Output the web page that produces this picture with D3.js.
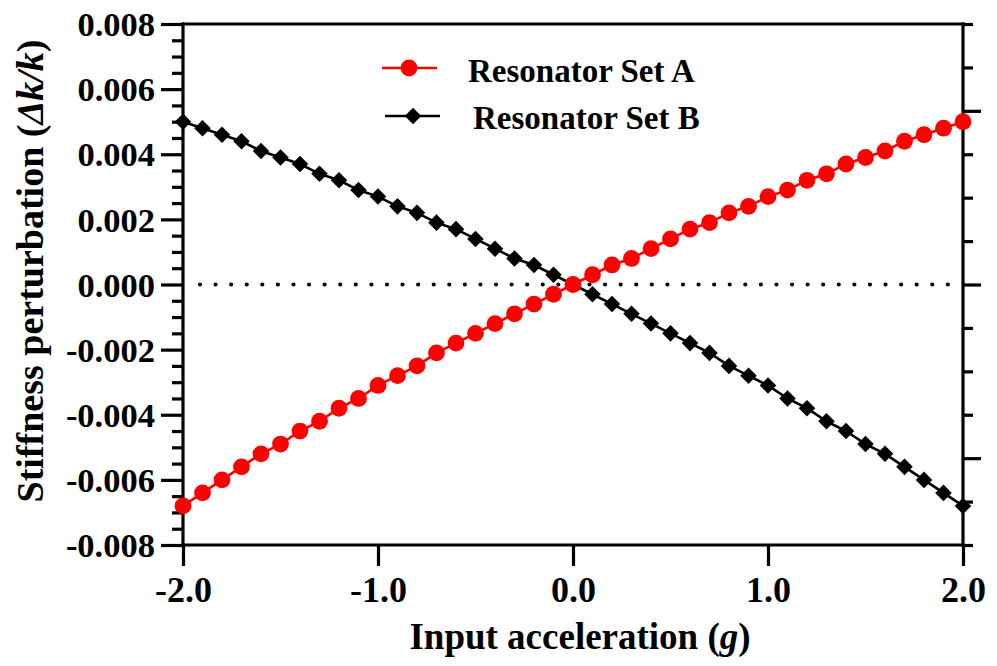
<!DOCTYPE html>
<html>
<head>
<meta charset="utf-8">
<script src="https://cdn.jsdelivr.net/npm/d3@7/dist/d3.min.js"></script>
<style>
  html, body { margin: 0; padding: 0; background: #fff; }
  svg { display: block; }
  text { font-family: "Liberation Serif", "Times New Roman", serif; font-weight: bold; fill: #000; }
</style>
</head>
<body>
<svg id="chart" width="997" height="666"></svg>
<script>
// Input acceleration (g)
const accel = [-2.0,-1.9,-1.8,-1.7,-1.6,-1.5,-1.4,-1.3,-1.2,-1.1,-1.0,-0.9,-0.8,-0.7,-0.6,-0.5,-0.4,-0.3,-0.2,-0.1,
               0.0,0.1,0.2,0.3,0.4,0.5,0.6,0.7,0.8,0.9,1.0,1.1,1.2,1.3,1.4,1.5,1.6,1.7,1.8,1.9,2.0];

// Stiffness perturbation Δk/k for each resonator set
const setA = [-0.0068,-0.0064,-0.0060,-0.0056,-0.0052,-0.0049,-0.0045,-0.0042,-0.0038,-0.0035,-0.0031,
              -0.0028,-0.0025,-0.0021,-0.0018,-0.0015,-0.0012,-0.0009,-0.0006,-0.0003,
              0.0000,0.0003,0.0006,0.0008,0.0011,0.0014,0.0017,0.0019,0.0022,0.0024,0.0027,
              0.0029,0.0032,0.0034,0.0037,0.0039,0.0041,0.0044,0.0046,0.0048,0.0050];
const setB = [0.0050,0.0048,0.0046,0.0044,0.0041,0.0039,0.0037,0.0034,0.0032,0.0029,0.0027,
              0.0024,0.0022,0.0019,0.0017,0.0014,0.0011,0.0008,0.0006,0.0003,
              0.0000,-0.0003,-0.0006,-0.0009,-0.0012,-0.0015,-0.0018,-0.0021,-0.0025,-0.0028,-0.0031,
              -0.0035,-0.0038,-0.0042,-0.0045,-0.0049,-0.0052,-0.0056,-0.0060,-0.0064,-0.0068];

const seriesNames = ["Resonator Set A", "Resonator Set B"];

// Axis ticks
const xTicks = [-2.0, -1.0, 0.0, 1.0, 2.0];
const yMajorTicks = [-0.008,-0.006,-0.004,-0.002,0.000,0.002,0.004,0.006,0.008];
const yMinorTicks = [-0.0075,-0.007,-0.0065,-0.0055,-0.005,-0.0045,-0.0035,-0.003,-0.0025,
                     -0.0015,-0.001,-0.0005,0.0005,0.001,0.0015,0.0025,0.003,0.0035,
                     0.0045,0.005,0.0055,0.0065,0.007,0.0075];
// Right-hand (secondary) axis, ticks only
const rightMajorTicks = [-4, 0, 4];
const rightMinorTicks = [-6,-5,-3,-2,-1,1,2,3,5,6];

const svg = d3.select("#chart");
const plotL = 183, plotR = 963, plotT = 24, plotB = 545;

const x = d3.scaleLinear().domain([-2, 2]).range([plotL, plotR]);
const y = d3.scaleLinear().domain([-0.008, 0.008]).range([plotB, plotT]);
const y2 = d3.scaleLinear().domain([-6, 6]).range([plotB, plotT]);

const axisW = 3.2;

// Left axis: minor ticks
svg.append("g")
  .attr("transform", `translate(${plotL},0)`)
  .call(d3.axisLeft(y).tickValues(yMinorTicks).tickSize(11).tickFormat(""))
  .call(g => g.select(".domain").remove());

// Left axis: major ticks with labels
svg.append("g")
  .attr("transform", `translate(${plotL},0)`)
  .call(d3.axisLeft(y).tickValues(yMajorTicks).tickSize(22).tickPadding(6)
        .tickFormat(d => d.toFixed(3)))
  .call(g => g.select(".domain").remove())
  .call(g => g.selectAll("text").style("font-size", "34.5px").attr("dy", "0.34em"));

// Right axis ticks
svg.append("g")
  .attr("transform", `translate(${plotR},0)`)
  .call(d3.axisRight(y2).tickValues(rightMinorTicks).tickSize(10).tickFormat(""))
  .call(g => g.select(".domain").remove());
svg.append("g")
  .attr("transform", `translate(${plotR},0)`)
  .call(d3.axisRight(y2).tickValues(rightMajorTicks).tickSize(18).tickFormat(""))
  .call(g => g.select(".domain").remove());

// Bottom axis
svg.append("g")
  .attr("transform", `translate(0,${plotB})`)
  .call(d3.axisBottom(x).tickValues(xTicks).tickSize(21).tickPadding(10)
        .tickFormat(d => d.toFixed(1)))
  .call(g => g.select(".domain").remove())
  .call(g => g.selectAll("text").style("font-size", "36px").attr("dy", "0.71em"));

svg.selectAll(".tick line").attr("stroke", "#000").attr("stroke-width", axisW);

// Frame lines
const frame = svg.append("g").attr("stroke", "#000").attr("stroke-width", axisW).attr("stroke-linecap", "square");
frame.append("line").attr("x1", plotL).attr("x2", plotL).attr("y1", y(0.008)).attr("y2", y(-0.008));
frame.append("line").attr("x1", plotR).attr("x2", plotR).attr("y1", y(0.008)).attr("y2", y(-0.008));
frame.append("line").attr("x1", plotL).attr("x2", plotR).attr("y1", y(-0.008)).attr("y2", y(-0.008));
frame.append("line").attr("x1", plotL).attr("x2", plotR).attr("y1", y(0.008)).attr("y2", y(0.008));

// Dotted zero reference line
svg.append("line")
  .attr("x1", x(-2) + 17).attr("x2", x(2) - 14)
  .attr("y1", y(0)).attr("y2", y(0))
  .attr("stroke", "#000").attr("stroke-width", 4.2)
  .attr("stroke-linecap", "round")
  .attr("stroke-dasharray", "0,15.58");

// Series
const line = d3.line().x(d => x(d[0])).y(d => y(d[1]));
const ptsA = accel.map((a, i) => [a, setA[i]]);
const ptsB = accel.map((a, i) => [a, setB[i]]);
const diamond = d3.symbol().type(d3.symbolDiamond2).size(175);

// Set B (black diamonds)
svg.append("path").datum(ptsB).attr("d", line)
  .attr("fill", "none").attr("stroke", "#000").attr("stroke-width", 2.6);
svg.append("g").selectAll("path").data(ptsB).join("path")
  .attr("d", diamond)
  .attr("transform", d => `translate(${x(d[0])},${y(d[1])})`)
  .attr("fill", "#000");

// Set A (red circles)
svg.append("path").datum(ptsA).attr("d", line)
  .attr("fill", "none").attr("stroke", "#ff0000").attr("stroke-width", 2.6);
svg.append("g").selectAll("circle").data(ptsA).join("circle")
  .attr("cx", d => x(d[0])).attr("cy", d => y(d[1])).attr("r", 8.4)
  .attr("fill", "#ff0000");

// Legend
const legend = svg.append("g");
legend.append("line").attr("x1", 382).attr("x2", 437).attr("y1", 68).attr("y2", 68)
  .attr("stroke", "#ff0000").attr("stroke-width", 2.6);
legend.append("circle").attr("cx", 409).attr("cy", 68).attr("r", 8.4).attr("fill", "#ff0000");
legend.append("text").attr("x", 468).attr("y", 82).style("font-size", "33px").text(seriesNames[0]);

legend.append("line").attr("x1", 385).attr("x2", 440).attr("y1", 116).attr("y2", 116)
  .attr("stroke", "#000").attr("stroke-width", 2.6);
legend.append("path").attr("d", diamond).attr("transform", "translate(413,116)").attr("fill", "#000");
legend.append("text").attr("x", 473).attr("y", 129).style("font-size", "33px").text(seriesNames[1]);

// Axis titles
const xt = svg.append("text").attr("x", 580).attr("y", 649)
  .attr("text-anchor", "middle").style("font-size", "37px");
xt.append("tspan").text("Input acceleration (");
xt.append("tspan").style("font-style", "italic").text("g");
xt.append("tspan").text(")");

const yt = svg.append("text")
  .attr("transform", "translate(43,271) rotate(-90)")
  .attr("text-anchor", "middle").style("font-size", "38px");
yt.append("tspan").text("Stiffness perturbation (");
yt.append("tspan").style("font-style", "italic").text("Δk/k");
yt.append("tspan").text(")");
</script>
</body>
</html>
